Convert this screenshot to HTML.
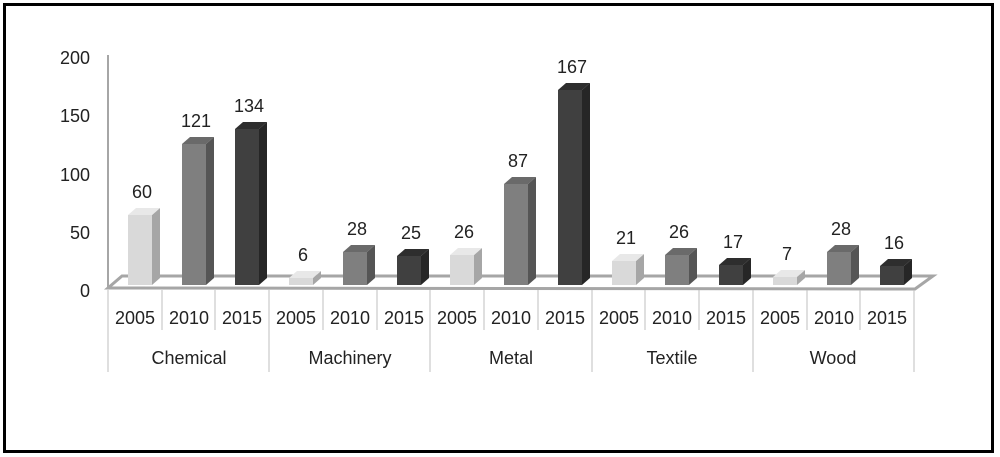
<!DOCTYPE html>
<html><head><meta charset="utf-8"><style>
html,body{margin:0;padding:0;background:#fff;}
svg{display:block;font-family:"Liberation Sans",sans-serif;}
</style></head><body>
<svg width="1000" height="457" viewBox="0 0 1000 457">
<rect x="0" y="0" width="1000" height="457" fill="#fff"/>
<rect x="4.5" y="4.5" width="988" height="447" fill="none" stroke="#000" stroke-width="3"/>
<polygon points="108,288 122,276 933,276 915,289" fill="#fff" stroke="#a6a6a6" stroke-width="3"/>
<line x1="108" y1="55" x2="108" y2="289" stroke="#a6a6a6" stroke-width="2"/>
<g font-size="18" fill="#222" text-anchor="end">
<text x="90" y="64">200</text><text x="90" y="122">150</text><text x="90" y="181">100</text><text x="90" y="239">50</text><text x="90" y="297">0</text>
</g>
<defs>
<style>
.l .f{fill:#d9d9d9}.l .s{fill:#a6a6a6}.l .t{fill:#e8e8e8}
.m .f{fill:#7f7f7f}.m .s{fill:#555}.m .t{fill:#6a6a6a}
.d .f{fill:#404040}.d .s{fill:#262626}.d .t{fill:#2e2e2e}
.v{font-size:18px;fill:#222;text-anchor:middle}
</style>
</defs>
<!-- Chemical -->
<g class="l" transform="translate(128,215)"><polygon class="s" points="24,70 32,63 32,-7 24,0"/><polygon class="t" points="0,0 8,-7 32,-7 24,0"/><rect class="f" width="24" height="70"/><text class="v" x="14" y="-17">60</text></g>
<g class="m" transform="translate(182,144)"><polygon class="s" points="24,141 32,134 32,-7 24,0"/><polygon class="t" points="0,0 8,-7 32,-7 24,0"/><rect class="f" width="24" height="141"/><text class="v" x="14" y="-17">121</text></g>
<g class="d" transform="translate(235,129)"><polygon class="s" points="24,156 32,149 32,-7 24,0"/><polygon class="t" points="0,0 8,-7 32,-7 24,0"/><rect class="f" width="24" height="156"/><text class="v" x="14" y="-17">134</text></g>
<!-- Machinery -->
<g class="l" transform="translate(289,278)"><polygon class="s" points="24,7 32,0 32,-7 24,0"/><polygon class="t" points="0,0 8,-7 32,-7 24,0"/><rect class="f" width="24" height="7"/><text class="v" x="14" y="-17">6</text></g>
<g class="m" transform="translate(343,252)"><polygon class="s" points="24,33 32,26 32,-7 24,0"/><polygon class="t" points="0,0 8,-7 32,-7 24,0"/><rect class="f" width="24" height="33"/><text class="v" x="14" y="-17">28</text></g>
<g class="d" transform="translate(397,256)"><polygon class="s" points="24,29 32,22 32,-7 24,0"/><polygon class="t" points="0,0 8,-7 32,-7 24,0"/><rect class="f" width="24" height="29"/><text class="v" x="14" y="-17">25</text></g>
<!-- Metal -->
<g class="l" transform="translate(450,255)"><polygon class="s" points="24,30 32,23 32,-7 24,0"/><polygon class="t" points="0,0 8,-7 32,-7 24,0"/><rect class="f" width="24" height="30"/><text class="v" x="14" y="-17">26</text></g>
<g class="m" transform="translate(504,184)"><polygon class="s" points="24,101 32,94 32,-7 24,0"/><polygon class="t" points="0,0 8,-7 32,-7 24,0"/><rect class="f" width="24" height="101"/><text class="v" x="14" y="-17">87</text></g>
<g class="d" transform="translate(558,90)"><polygon class="s" points="24,195 32,188 32,-7 24,0"/><polygon class="t" points="0,0 8,-7 32,-7 24,0"/><rect class="f" width="24" height="195"/><text class="v" x="14" y="-17">167</text></g>
<!-- Textile -->
<g class="l" transform="translate(612,261)"><polygon class="s" points="24,24 32,17 32,-7 24,0"/><polygon class="t" points="0,0 8,-7 32,-7 24,0"/><rect class="f" width="24" height="24"/><text class="v" x="14" y="-17">21</text></g>
<g class="m" transform="translate(665,255)"><polygon class="s" points="24,30 32,23 32,-7 24,0"/><polygon class="t" points="0,0 8,-7 32,-7 24,0"/><rect class="f" width="24" height="30"/><text class="v" x="14" y="-17">26</text></g>
<g class="d" transform="translate(719,265)"><polygon class="s" points="24,20 32,13 32,-7 24,0"/><polygon class="t" points="0,0 8,-7 32,-7 24,0"/><rect class="f" width="24" height="20"/><text class="v" x="14" y="-17">17</text></g>
<!-- Wood -->
<g class="l" transform="translate(773,277)"><polygon class="s" points="24,8 32,1 32,-7 24,0"/><polygon class="t" points="0,0 8,-7 32,-7 24,0"/><rect class="f" width="24" height="8"/><text class="v" x="14" y="-17">7</text></g>
<g class="m" transform="translate(827,252)"><polygon class="s" points="24,33 32,26 32,-7 24,0"/><polygon class="t" points="0,0 8,-7 32,-7 24,0"/><rect class="f" width="24" height="33"/><text class="v" x="14" y="-17">28</text></g>
<g class="d" transform="translate(880,266)"><polygon class="s" points="24,19 32,12 32,-7 24,0"/><polygon class="t" points="0,0 8,-7 32,-7 24,0"/><rect class="f" width="24" height="19"/><text class="v" x="14" y="-17">16</text></g>
<!-- grid -->
<g stroke="#bfbfbf" stroke-width="1">
<line x1="108" y1="290" x2="108" y2="372"/><line x1="269" y1="290" x2="269" y2="372"/><line x1="430" y1="290" x2="430" y2="372"/><line x1="592" y1="290" x2="592" y2="372"/><line x1="753" y1="290" x2="753" y2="372"/><line x1="914" y1="290" x2="914" y2="372"/>
<line x1="162" y1="290" x2="162" y2="330"/><line x1="215" y1="290" x2="215" y2="330"/>
<line x1="323" y1="290" x2="323" y2="330"/><line x1="377" y1="290" x2="377" y2="330"/>
<line x1="484" y1="290" x2="484" y2="330"/><line x1="538" y1="290" x2="538" y2="330"/>
<line x1="645" y1="290" x2="645" y2="330"/><line x1="699" y1="290" x2="699" y2="330"/>
<line x1="807" y1="290" x2="807" y2="330"/><line x1="860" y1="290" x2="860" y2="330"/>
</g>
<g font-size="18" fill="#222" text-anchor="middle">
<text x="135" y="324">2005</text><text x="189" y="324">2010</text><text x="242" y="324">2015</text>
<text x="296" y="324">2005</text><text x="350" y="324">2010</text><text x="404" y="324">2015</text>
<text x="457" y="324">2005</text><text x="511" y="324">2010</text><text x="565" y="324">2015</text>
<text x="619" y="324">2005</text><text x="672" y="324">2010</text><text x="726" y="324">2015</text>
<text x="780" y="324">2005</text><text x="834" y="324">2010</text><text x="887" y="324">2015</text>
<text x="189" y="364">Chemical</text><text x="350" y="364">Machinery</text><text x="511" y="364">Metal</text><text x="672" y="364">Textile</text><text x="833" y="364">Wood</text>
</g>
</svg>
</body></html>
